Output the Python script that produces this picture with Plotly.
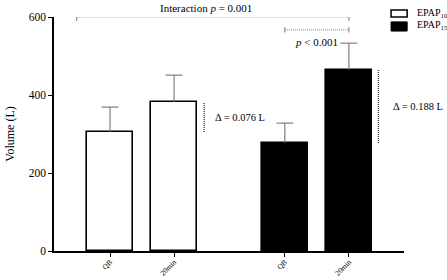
import plotly.graph_objects as go

# ---- data ----
conditions = ["EPAP<sub>10</sub>", "EPAP<sub>15</sub>"]
tick_labels = ["QB", "20min", "QB", "20min"]
x_pos = [1.0, 2.0, 3.73, 4.73]
epap10_means = [305, 382]
epap10_sd = [64, 69]
epap15_means = [277, 464]
epap15_sd = [51, 69]
y_ticks = [0, 200, 400, 600]

FONT = "Liberation Serif"
ERR = "#666666"

fig = go.Figure()
fig.add_trace(go.Bar(
    x=x_pos[:2], y=epap10_means, width=0.72,
    marker=dict(color="white", line=dict(color="black", width=1.6)),
    showlegend=False, name="EPAP10"))
fig.add_trace(go.Bar(
    x=x_pos[2:], y=epap15_means, width=0.72,
    marker=dict(color="black", line=dict(color="black", width=1.6)),
    showlegend=False, name="EPAP15"))

# upper-only error bars
means = epap10_means + epap15_means
sds = epap10_sd + epap15_sd
ex, ey = [], []
for xx, m, s in zip(x_pos, means, sds):
    ex += [xx, xx, None]
    ey += [m, m + s, None]
fig.add_trace(go.Scatter(x=ex, y=ey, mode="lines", line=dict(color=ERR, width=1),
                         showlegend=False, hoverinfo="skip"))
fig.add_trace(go.Scatter(x=x_pos, y=[m + s for m, s in zip(means, sds)], mode="markers",
                         marker=dict(symbol="line-ew", size=12, line=dict(color=ERR, width=1)),
                         showlegend=False, hoverinfo="skip"))

shapes = []
dot = dict(color="#888888", width=1, dash="1px,1px")
solid = dict(color="#777777", width=1)
# interaction bracket
yi = 600
shapes.append(dict(type="line", xref="x", yref="y", x0=0.48, x1=x_pos[3], y0=yi, y1=yi, line=dot))
for xx in (0.48, x_pos[3]):
    shapes.append(dict(type="line", xref="x", yref="y", x0=xx, x1=xx, y0=yi - 10, y1=yi + 10, line=solid))
# p<0.001 bracket
yp = 567
shapes.append(dict(type="line", xref="x", yref="y", x0=x_pos[2], x1=x_pos[3], y0=yp, y1=yp, line=dot))
for xx in (x_pos[2], x_pos[3]):
    shapes.append(dict(type="line", xref="x", yref="y", x0=xx, x1=xx, y0=yp - 7, y1=yp + 7, line=solid))
# delta lines
dline = dict(color="#333333", width=1.3, dash="1px,1px")
shapes.append(dict(type="line", xref="x", yref="y", x0=2.47, x1=2.47,
                   y0=epap10_means[0], y1=epap10_means[1], line=dline))
shapes.append(dict(type="line", xref="x", yref="y", x0=5.19, x1=5.19,
                   y0=epap15_means[0], y1=epap15_means[1], line=dline))
# legend boxes
shapes.append(dict(type="rect", xref="paper", yref="paper", x0=0.963, x1=1.009,
                   y0=1.0, y1=1.030, line=dict(color="black", width=1.5), fillcolor="white"))
shapes.append(dict(type="rect", xref="paper", yref="paper", x0=0.963, x1=1.009,
                   y0=0.940, y1=0.979, line=dict(color="black", width=1), fillcolor="black"))

fig.update_layout(shapes=shapes)

annotations = [
    dict(x=2.5, y=yi, xref="x", yref="y", text="Interaction <i>p</i> = 0.001", showarrow=False,
         yanchor="bottom", yshift=1, font=dict(size=11, family=FONT, color="black")),
    dict(x=(x_pos[2] + x_pos[3]) / 2, y=yp, xref="x", yref="y", text="<i>p</i> &lt; 0.001", showarrow=False,
         yanchor="top", yshift=-4, font=dict(size=11, family=FONT, color="black")),
    dict(x=2.6, y=(epap10_means[0] + epap10_means[1]) / 2, xref="x", yref="y", text="Δ = 0.076 L",
         showarrow=False, xanchor="left", font=dict(size=10.5, family=FONT, color="black")),
    dict(x=5.38, y=(epap15_means[0] + epap15_means[1]) / 2, xref="x", yref="y", text="Δ = 0.188 L",
         showarrow=False, xanchor="left", font=dict(size=10.5, family=FONT, color="black")),
    dict(x=1.032, y=1.017, xref="paper", yref="paper", text=conditions[0], showarrow=False,
         xanchor="left", yanchor="middle", font=dict(size=10, family=FONT, color="black")),
    dict(x=1.032, y=0.962, xref="paper", yref="paper", text=conditions[1], showarrow=False,
         xanchor="left", yanchor="middle", font=dict(size=10, family=FONT, color="black")),
]
fig.update_layout(annotations=annotations)

fig.update_layout(
    width=447, height=280,
    margin=dict(l=54, r=43, t=17, b=29, autoexpand=False),
    paper_bgcolor="white", plot_bgcolor="white",
    font=dict(family=FONT, size=11, color="black"),
    bargap=0,
)
fig.update_xaxes(range=[0.125, 5.59], tickvals=x_pos, ticktext=tick_labels, tickangle=-45,
                 showline=True, linecolor="black", linewidth=1.5, ticks="outside", ticklen=4,
                 tickcolor="black", tickfont=dict(size=7.5, family=FONT), showgrid=False, zeroline=False,
                 automargin=False, ticklabelstandoff=-2)
fig.update_yaxes(range=[0, 600], tickvals=y_ticks, showline=True, linecolor="black", linewidth=1.5,
                 ticks="outside", ticklen=4, tickcolor="black", tickfont=dict(size=11.5, family=FONT),
                 showgrid=False, zeroline=False, automargin=False,
                 title=dict(text="Volume (L)", font=dict(size=12, family=FONT), standoff=12))

fig.write_html("out.html")
